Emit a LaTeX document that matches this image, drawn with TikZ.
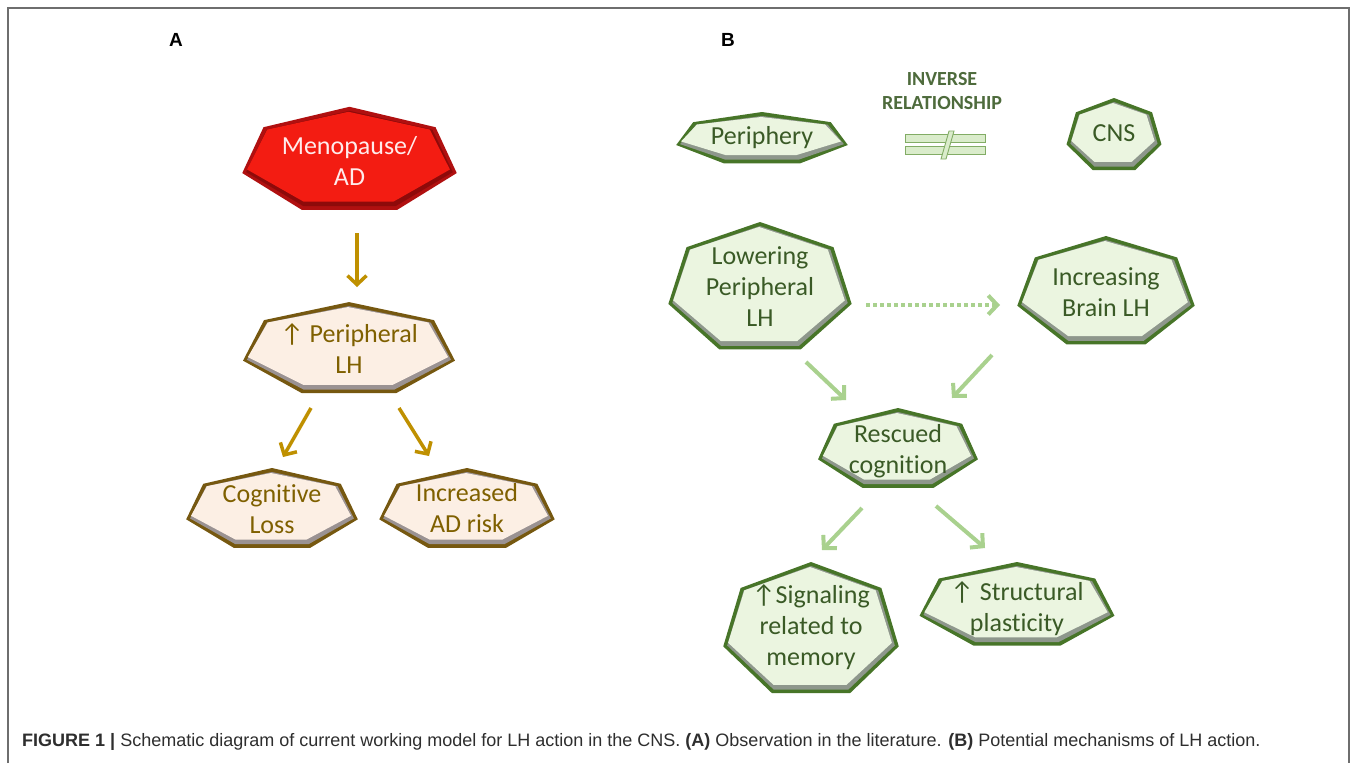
\documentclass[tikz,border=0pt]{standalone}
\usepackage{fontspec}
\setmainfont{Carlito}[Ligatures={NoCommon}]
\newfontfamily\capfont{Liberation Sans}
\usetikzlibrary{arrows.meta}
\definecolor{redB}{HTML}{B01010}
\definecolor{redG}{HTML}{8E0A0A}
\definecolor{redF}{HTML}{F31C12}
\definecolor{tanB}{HTML}{765810}
\definecolor{tanG}{HTML}{9A9292}
\definecolor{tanF}{HTML}{FCEFE4}
\definecolor{tanT}{HTML}{7F6000}
\definecolor{grnB}{HTML}{477528}
\definecolor{grnG}{HTML}{8E978C}
\definecolor{grnF}{HTML}{EBF5E0}
\definecolor{grnT}{HTML}{3A5A26}
\definecolor{grnA}{HTML}{A9D18E}
\definecolor{goldA}{HTML}{BF9000}
\definecolor{frameC}{HTML}{6E6E6E}
\newcommand\hept[5]{%
 \pgfmathsetmacro\hrxa{#3-4}\pgfmathsetmacro\hrya{#4-4}%
 \pgfmathsetmacro\hrxb{#3-6}\pgfmathsetmacro\hryb{#4-7}%
 \pgfmathsetmacro\hcxb{#1-1}\pgfmathsetmacro\hcyb{#2-2}%
 \fill[#5B, shift={(#1,#2)}, x=#3pt, y=#4pt] (90:1) -- (141.4286:1) -- (192.8571:1) -- (244.2857:1) -- (295.7143:1) -- (347.1429:1) -- (38.5714:1) -- cycle;
 \fill[#5G, shift={(#1,#2)}, x=\hrxa pt, y=\hrya pt] (90:1) -- (141.4286:1) -- (192.8571:1) -- (244.2857:1) -- (295.7143:1) -- (347.1429:1) -- (38.5714:1) -- cycle;
 \fill[#5F, shift={(\hcxb,\hcyb)}, x=\hrxb pt, y=\hryb pt] (90:1) -- (141.4286:1) -- (192.8571:1) -- (244.2857:1) -- (295.7143:1) -- (347.1429:1) -- (38.5714:1) -- cycle;
}
\tikzset{
 lbl/.style={font=\fontsize{26}{31}\selectfont, align=center, inner sep=0pt},
 redtxt/.style={lbl, text=white!92!red},
 tantxt/.style={lbl, text=tanT},
 grntxt/.style={lbl, text=grnT},
 goldarrow/.style={draw=goldA, line width=3.5pt, -{Straight Barb[length=9pt,width=19pt]}},
 grnarrow/.style={draw=grnA, line width=4pt, -{Straight Barb[length=9pt,width=19pt]}},
 panel/.style={font=\capfont\bfseries\fontsize{19}{22}\selectfont},
 neqbar/.style={fill=grnF!75!grnA, draw=grnA!60!grnB, line width=0.9pt},
}
\begin{document}
\begin{tikzpicture}[x=1pt,y=-1pt]
\useasboundingbox (0,0) rectangle (1357,763);
\fill[white] (0,0) rectangle (1357,763);
\draw[frameC, line width=1.5pt] (8,763) -- (8,8) -- (1349,8) -- (1349,763);
\node[panel] (pa) at (176,40) {A};
\node[panel] (pb) at (728,40) {B};
% Panel A
\hept{349.5}{161}{110}{54.2}{red}
\node[redtxt] (meno) at (349.5,161) {Menopause/\\AD};
\hept{349}{350}{108.7}{47.9}{tan}
\node[tantxt] (plh) at (349,349) {↑ Peripheral\\LH};
\hept{272}{510}{88}{42}{tan}
\node[tantxt] (cog) at (272,509) {Cognitive\\Loss};
\hept{467}{510}{90}{42}{tan}
\node[tantxt] (adr) at (467,508) {Increased\\AD risk};
\coordinate (a1s) at (357,233); \coordinate (a1e) at (357,287);
\coordinate (a2s) at (311,408); \coordinate (a2e) at (283,457);
\coordinate (a3s) at (399,408); \coordinate (a3e) at (429,456);
\draw[goldarrow] (a1s) -- (a1e);
\draw[goldarrow] (a2s) -- (a2e);
\draw[goldarrow] (a3s) -- (a3e);
% Panel B
\hept{762}{139}{88}{27}{grn}
\node[grntxt] (per) at (762,138) {Periphery};
\hept{1114}{136}{48.7}{38}{grn}
\node[grntxt] (cns) at (1114,133) {CNS};
\node[font=\bfseries\fontsize{20}{24}\selectfont, text=grnT!90!white, align=center, inner sep=0pt] (inv) at (942,91) {INVERSE\\RELATIONSHIP};
\filldraw[neqbar] (905,134) rectangle (985,142.5);
\filldraw[neqbar] (905,146.5) rectangle (985,154.5);
\filldraw[neqbar] (949,131) -- (954,131) -- (946,159) -- (941,159) -- cycle;
\hept{760}{289}{94}{67}{grn}
\node[grntxt] (low) at (760,287) {Lowering\\Peripheral\\LH};
\hept{1106}{293}{91}{57}{grn}
\node[grntxt] (inc) at (1106,292) {Increasing\\Brain LH};
\hept{898}{450}{82}{42}{grn}
\node[grntxt] (res) at (898,451) {Rescued\\cognition};
\hept{811}{631}{90}{69}{grn}
\node[grntxt] (sig) at (811,627) {↑Signaling\\related to\\memory};
\hept{1017}{606}{100}{44}{grn}
\node[grntxt] (str) at (1017,609) {↑ Structural\\plasticity};
\coordinate (b1s) at (866,305); \coordinate (b1e) at (1000,305);
\coordinate (b2s) at (806,362); \coordinate (b2e) at (846,400);
\coordinate (b3s) at (992,355); \coordinate (b3e) at (952,398);
\coordinate (b4s) at (862,508); \coordinate (b4e) at (822,550);
\coordinate (b5s) at (936,506); \coordinate (b5e) at (985,548);
\draw[grnarrow, dash pattern=on 4pt off 3pt] (b1s) -- (b1e);
\draw[grnarrow] (b2s) -- (b2e);
\draw[grnarrow] (b3s) -- (b3e);
\draw[grnarrow] (b4s) -- (b4e);
\draw[grnarrow] (b5s) -- (b5e);
% caption
\node[anchor=west, inner sep=0pt, text=black!82, font=\capfont\fontsize{18}{22}\selectfont] (cap) at (22,742) {\textbf{FIGURE 1 |} Schematic diagram of current working model for LH action in the CNS. \textbf{(A)} Observation in the literature. \textbf{(B)} Potential mechanisms of LH action.};
\end{tikzpicture}
\end{document}
